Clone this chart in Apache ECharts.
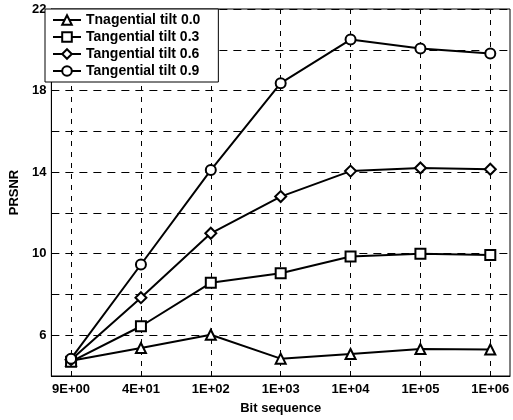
<!DOCTYPE html>
<html>
<head>
<meta charset="utf-8">
<script src="https://cdn.jsdelivr.net/npm/echarts@6/dist/echarts.min.js"></script>
<style>html,body{margin:0;padding:0;background:#fff}#c{width:513px;height:420px}</style>
</head>
<body>
<div id="c"></div>
<script>
var categories = ['9E+00', '4E+01', '1E+02', '1E+03', '1E+04', '1E+05', '1E+06'];
var seriesNames = ['Tnagential tilt 0.0', 'Tangential tilt 0.3', 'Tangential tilt 0.6', 'Tangential tilt 0.9'];
var tilt00 = [4.75, 5.37, 6.02, 4.85, 5.08, 5.32, 5.3];
var tilt03 = [4.7, 6.44, 8.57, 9.04, 9.86, 9.99, 9.94];
var tilt06 = [4.8, 7.84, 11.0, 12.8, 14.05, 14.2, 14.14];
var tilt09 = [4.85, 9.47, 14.1, 18.36, 20.5, 20.06, 19.82];
var yTickLabels = [6, 10, 14, 18, 22];
var symbols = ['triangle', 'rect', 'diamond', 'circle'];
var allValues = [tilt00, tilt03, tilt06, tilt09];

var font = '"Liberation Sans", Arial, sans-serif';
var chart = echarts.init(document.getElementById('c'), null, {renderer: 'canvas'});

var series = allValues.map(function (vals, si) {
  return {
    name: seriesNames[si],
    type: 'line',
    data: vals.map(function (v, i) { return [i, v]; }),
    symbol: symbols[si],
    symbolSize: si === 2 ? 11 : 10,
    lineStyle: {color: '#000', width: 2},
    itemStyle: {color: '#fff', borderColor: '#000', borderWidth: 2},
    z: 3 + si
  };
});

var idx = categories.map(function (c, i) { return i; });

chart.setOption({
  animation: false,
  backgroundColor: '#fff',
  grid: {left: 45, right: 3, top: 9, bottom: 42, show: true, borderColor: '#000', borderWidth: 1, backgroundColor: 'transparent'},
  legend: {
    orient: 'vertical',
    left: 45, top: 9,
    padding: [4, 18, 4, 7],
    itemGap: 3,
    itemWidth: 28, itemHeight: 12,
    backgroundColor: '#fff',
    borderColor: '#000', borderWidth: 1,
    textStyle: {fontFamily: font, fontWeight: 'bold', fontSize: 14, color: '#000'},
    data: seriesNames
  },
  xAxis: {
    type: 'value',
    min: -0.282, max: 6.282,
    name: 'Bit sequence',
    nameLocation: 'middle',
    nameGap: 26,
    nameTextStyle: {fontFamily: font, fontWeight: 'bold', fontSize: 13, color: '#000'},
    axisLine: {show: true, onZero: false, lineStyle: {color: '#000', width: 1}},
    axisTick: {show: true, inside: true, length: 5, customValues: idx, lineStyle: {color: '#000'}},
    axisLabel: {
      customValues: idx,
      margin: 7,
      fontFamily: font, fontWeight: 'bold', fontSize: 13, color: '#000',
      formatter: function (v) { return categories[Math.round(v)]; }
    },
    splitLine: {show: true, lineStyle: {color: '#000', width: 1, type: [5, 6]}}
  },
  yAxis: {
    type: 'value',
    min: 4, max: 22, interval: 2,
    name: 'PRSNR',
    nameLocation: 'middle',
    nameGap: 26,
    nameTextStyle: {fontFamily: font, fontWeight: 'bold', fontSize: 13, color: '#000'},
    axisLine: {show: true, onZero: false, lineStyle: {color: '#000', width: 1}},
    axisTick: {show: true, inside: true, length: 5, lineStyle: {color: '#000'}},
    axisLabel: {
      margin: 5,
      fontFamily: font, fontWeight: 'bold', fontSize: 13, color: '#000',
      formatter: function (v) { return yTickLabels.indexOf(v) >= 0 ? String(v) : ''; }
    },
    splitLine: {show: true, lineStyle: {color: '#000', width: 1, type: [8, 6]}}
  },
  series: series
});
</script>
</body>
</html>
